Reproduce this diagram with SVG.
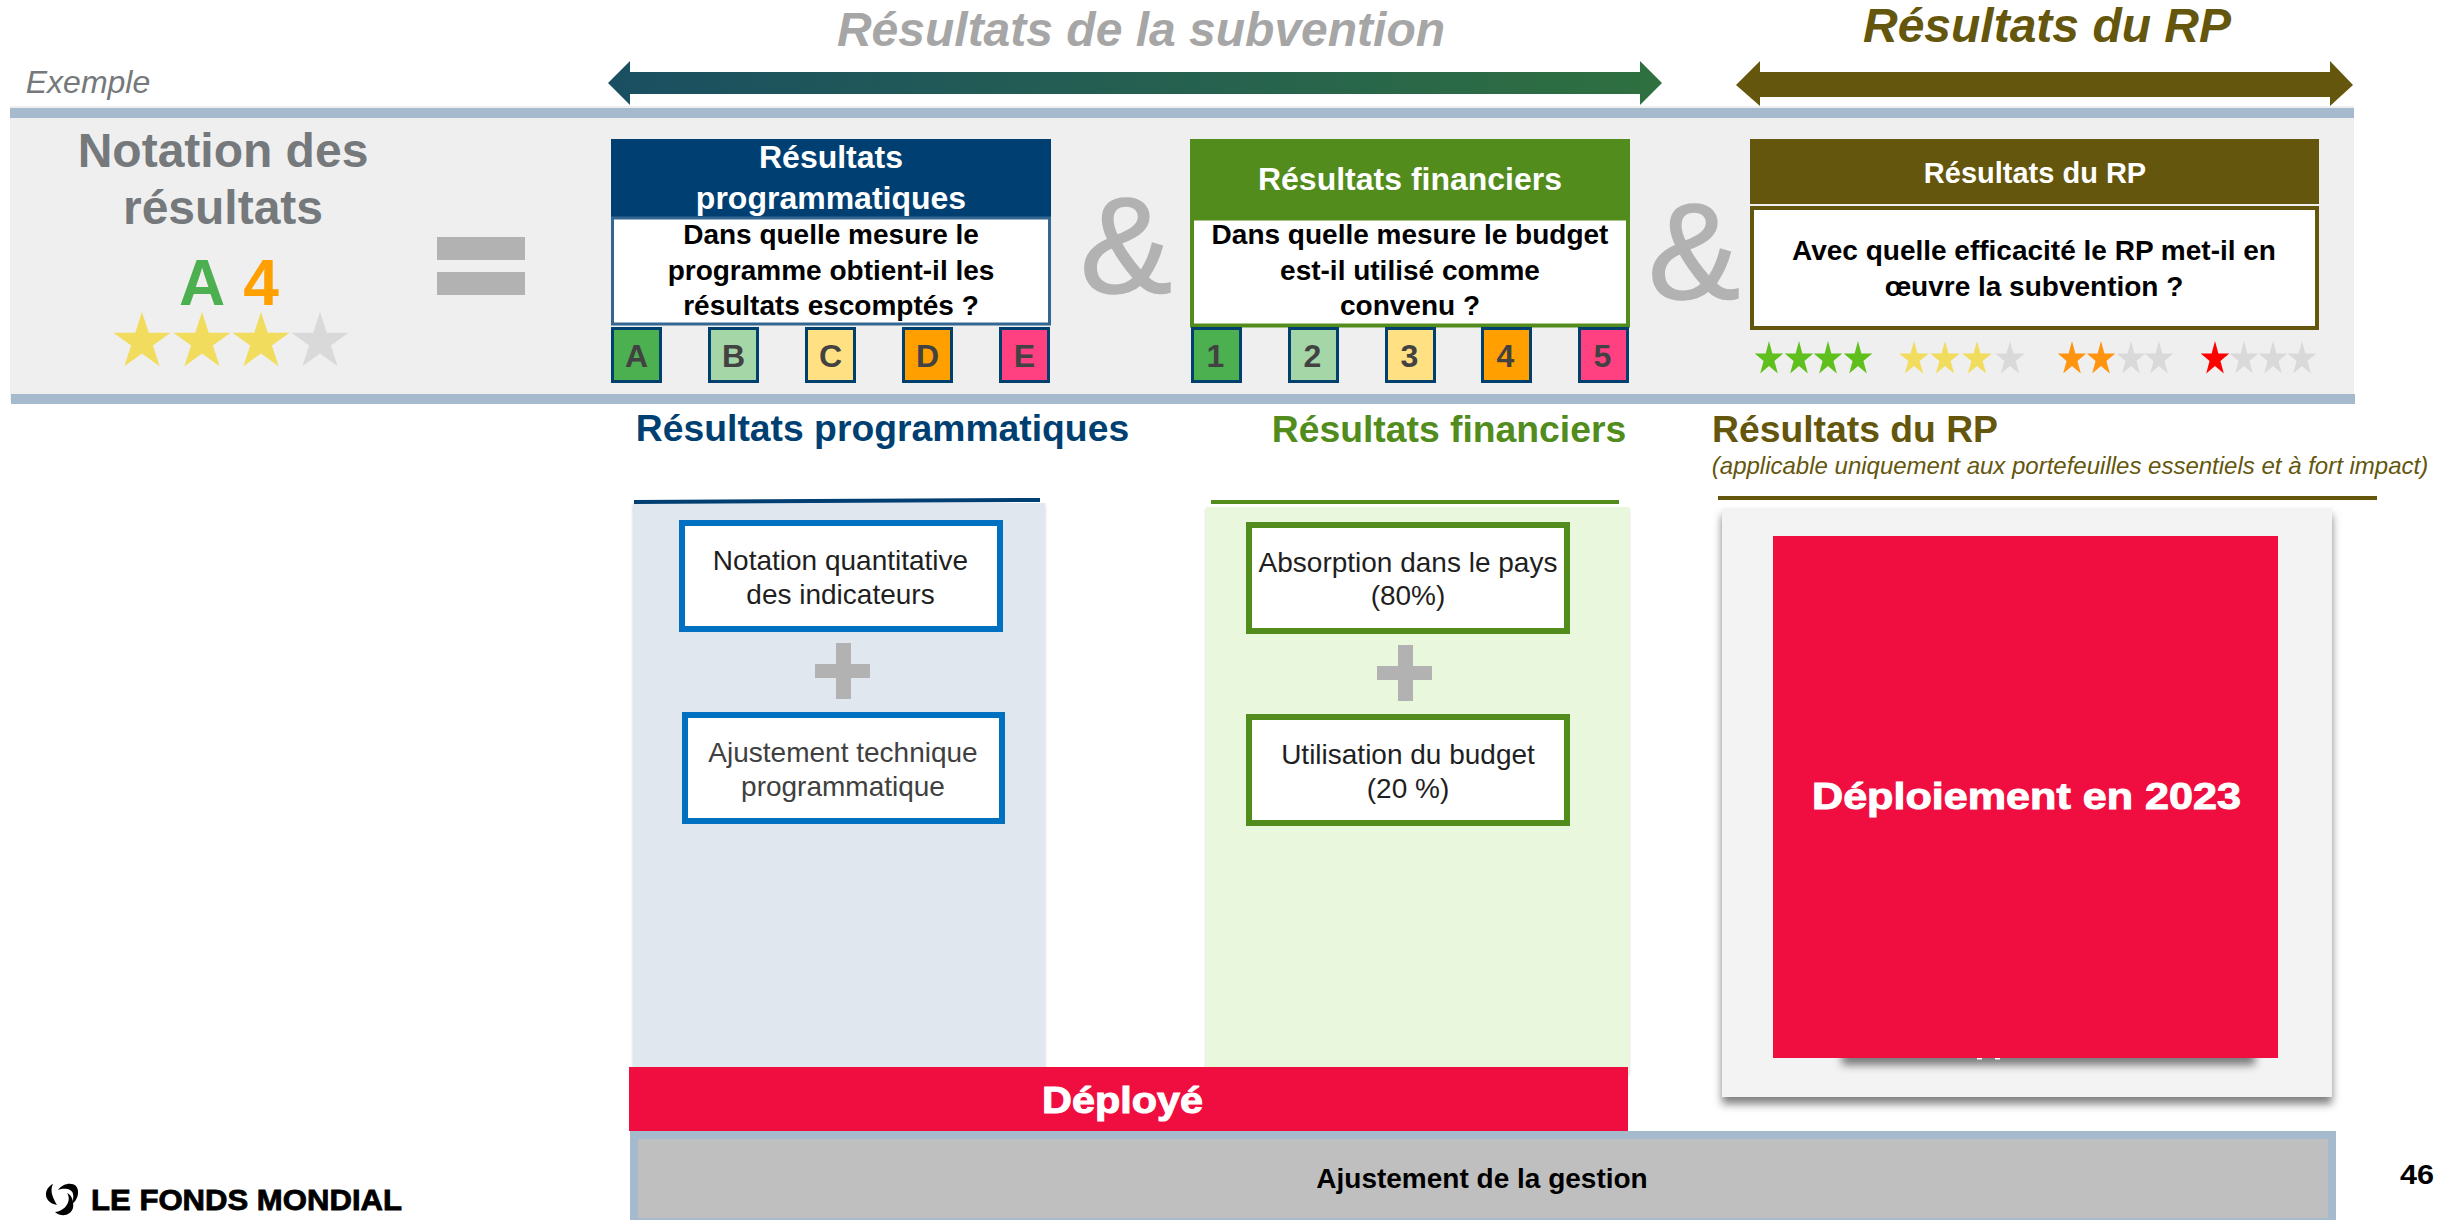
<svg xmlns="http://www.w3.org/2000/svg" xmlns:xlink="http://www.w3.org/1999/xlink" width="2456" height="1220" viewBox="0 0 2456 1220">
<style>
text{font-family:"Liberation Sans",Arial,sans-serif;text-anchor:middle}
.b{font-weight:700}
.i{font-style:italic}
.gry{fill:#75797c}
.sym{fill:#b2b2b2}
.amp{fill:#b2b2b2;stroke:#b2b2b2;stroke-width:1.500}
.blue{fill:#003f72}
.grn{fill:#518c1c}
.rp{fill:#64560c}
.q{font-size:28px;font-weight:700;fill:#000}
.hd{font-size:32px;font-weight:700;fill:#fff}
.sh{font-size:37.300px;font-weight:700}
.sq{stroke:#00406f;stroke-width:3}
.sql{font-size:32px;font-weight:700;fill:#424242}
.itxt{font-size:28px;fill:#1f1f1f}
.bar{fill:#a5bacc}
.bb{fill:#fff;stroke:#0070c0;stroke-width:6}
.gb{fill:#fff;stroke:#518c1c;stroke-width:6}
.y{fill:#f2dc5d}.g{fill:#d9d9d9}.l{fill:#5fbf1c}.o{fill:#ff9410}.r{fill:#ff0000}
</style>
<defs>
<polygon id="star" points="0,-1 0.2245,-0.309 0.951,-0.309 0.363,0.118 0.588,0.809 0,0.382 -0.588,0.809 -0.363,0.118 -0.951,-0.309 -0.2245,-0.309"/>
<linearGradient id="ag" x1="0" x2="1" y1="0" y2="0"><stop offset="0" stop-color="#1a4f62"/><stop offset="1" stop-color="#2f7040"/></linearGradient>
<filter id="ps" filterUnits="userSpaceOnUse" x="1700" y="490" width="660" height="640"><feDropShadow dx="0" dy="7" stdDeviation="4" flood-color="#000" flood-opacity="0.5"/></filter>
<filter id="ss" x="-5%" y="-5%" width="110%" height="110%"><feDropShadow dx="0" dy="2" stdDeviation="1.500" flood-color="#000" flood-opacity="0.2"/></filter>
</defs>
<rect width="2456" height="1220" fill="#fff"/>

<g id="band">
<rect x="10" y="106" width="2344" height="294" fill="#efefef"/>
<rect class="bar" x="10" y="108" width="2344" height="10"/>
<rect class="bar" x="11" y="394" width="2344" height="10"/>
</g>

<g id="exemple"><text class="i gry" x="88" y="93" font-size="32">Exemple</text></g>

<g id="titre-subvention">
<text class="b i" x="1141" y="46" font-size="48" fill="#a6a6a6">Résultats de la subvention</text>
<polygon points="608,83 630,61 630,72 1640,72 1640,61 1662,83 1640,105 1640,94 630,94 630,105" fill="url(#ag)"/>
</g>
<g id="titre-rp">
<text class="b i rp" x="2047" y="42" font-size="48">Résultats du RP</text>
<polygon class="rp" points="1736,85 1760,61 1760,72 2330,72 2330,61 2353,85 2330,106 2330,97 1760,97 1760,106"/>
</g>

<g id="notation">
<text class="b gry" x="223" y="167" font-size="48">Notation des</text>
<text class="b gry" x="223" y="224" font-size="48">résultats</text>
<text class="b" x="202" y="305" font-size="64" fill="#4caf50">A</text>
<text class="b" x="261" y="305" font-size="64" fill="#ff9f00">4</text>
<use href="#star" class="y" transform="translate(142 342) scale(30)"/>
<use href="#star" class="y" transform="translate(202 342) scale(30)"/>
<use href="#star" class="y" transform="translate(261 342) scale(30)"/>
<use href="#star" class="g" transform="translate(320 342) scale(30)"/>
</g>
<g id="egal" class="sym"><rect x="437" y="237" width="88" height="23"/><rect x="437" y="272" width="88" height="23"/></g>

<g id="box-programmatiques">
<rect class="blue" x="611" y="139" width="440" height="78"/>
<text class="hd" x="831" y="168">Résultats</text>
<text class="hd" x="831" y="209">programmatiques</text>
<rect x="612.500" y="218" width="437" height="106" fill="#fff" stroke="#336690" stroke-width="3"/>
<text class="q" x="831" y="244">Dans quelle mesure le</text>
<text class="q" x="831" y="280">programme obtient-il les</text>
<text class="q" x="831" y="315">résultats escomptés ?</text>
<rect class="sq" x="612.500" y="328.500" width="48" height="53" fill="#4caf50"/><text class="sql" x="636.500" y="367">A</text>
<rect class="sq" x="709.500" y="328.500" width="48" height="53" fill="#a5d6a7"/><text class="sql" x="733.500" y="367">B</text>
<rect class="sq" x="806.500" y="328.500" width="48" height="53" fill="#ffe082"/><text class="sql" x="830.500" y="367">C</text>
<rect class="sq" x="903.500" y="328.500" width="48" height="53" fill="#ffa000"/><text class="sql" x="927.500" y="367">D</text>
<rect class="sq" x="1000.500" y="328.500" width="48" height="53" fill="#ff4081"/><text class="sql" x="1024.500" y="367">E</text>
</g>
<g id="et-1"><text class="amp" x="1126" y="293" font-size="138">&amp;</text></g>

<g id="box-financiers">
<rect class="grn" x="1190" y="139" width="440" height="78"/>
<text class="hd" x="1410" y="190">Résultats financiers</text>
<rect x="1192" y="218.500" width="436" height="107" fill="#fff" stroke="#518c1c" stroke-width="4"/>
<text class="q" x="1410" y="244">Dans quelle mesure le budget</text>
<text class="q" x="1410" y="280">est-il utilisé comme</text>
<text class="q" x="1410" y="315">convenu ?</text>
<rect class="sq" x="1192.500" y="328.500" width="48" height="53" fill="#4caf50"/><text class="sql" x="1215.500" y="367">1</text>
<rect class="sq" x="1289.500" y="328.500" width="48" height="53" fill="#a5d6a7"/><text class="sql" x="1312.500" y="367">2</text>
<rect class="sq" x="1386.500" y="328.500" width="48" height="53" fill="#ffe082"/><text class="sql" x="1409.500" y="367">3</text>
<rect class="sq" x="1482.500" y="328.500" width="48" height="53" fill="#ffa000"/><text class="sql" x="1505.500" y="367">4</text>
<rect class="sq" x="1579.500" y="328.500" width="48" height="53" fill="#ff4081"/><text class="sql" x="1602.500" y="367">5</text>
</g>
<g id="et-2"><text class="amp" x="1694" y="299" font-size="138">&amp;</text></g>

<g id="box-rp">
<rect class="rp" x="1750" y="139" width="569" height="65"/>
<text class="b" x="2035" y="183" font-size="29" fill="#fff">Résultats du RP</text>
<rect x="1752" y="208" width="565" height="120" fill="#fff" stroke="#64560c" stroke-width="4"/>
<text class="q" x="2034" y="260">Avec quelle efficacité le RP met-il en</text>
<text class="q" x="2034" y="296">œuvre la subvention ?</text>
</g>
<g id="etoiles-rp">
<use href="#star" class="l" transform="translate(1769 359) scale(15 18)"/>
<use href="#star" class="l" transform="translate(1799 359) scale(15 18)"/>
<use href="#star" class="l" transform="translate(1828 359) scale(15 18)"/>
<use href="#star" class="l" transform="translate(1858 359) scale(15 18)"/>
<use href="#star" class="y" transform="translate(1914 359) scale(15.500 18)"/>
<use href="#star" class="y" transform="translate(1945 359) scale(15.500 18)"/>
<use href="#star" class="y" transform="translate(1977 359) scale(15.500 18)"/>
<use href="#star" class="g" transform="translate(2010 359) scale(15.500 18)"/>
<use href="#star" class="o" transform="translate(2072 359) scale(15 18)"/>
<use href="#star" class="o" transform="translate(2101 359) scale(15 18)"/>
<use href="#star" class="g" transform="translate(2131 359) scale(15 18)"/>
<use href="#star" class="g" transform="translate(2159 359) scale(15 18)"/>
<use href="#star" class="r" transform="translate(2215 359) scale(15 18)"/>
<use href="#star" class="g" transform="translate(2244 359) scale(15 18)"/>
<use href="#star" class="g" transform="translate(2273 359) scale(15 18)"/>
<use href="#star" class="g" transform="translate(2302 359) scale(15 18)"/>
</g>

<g id="colonne-programmatiques">
<text class="sh blue" x="882.500" y="441">Résultats programmatiques</text>
<rect x="633" y="503" width="412" height="570" fill="#e0e7ef" filter="url(#ss)"/>
<polygon class="blue" points="634,500 1040,498 1040,502 634,504"/>
<g id="notation-quantitative">
<rect class="bb" x="682" y="523" width="318" height="106"/>
<text class="itxt" x="840.500" y="570">Notation quantitative</text>
<text class="itxt" x="840.500" y="604">des indicateurs</text>
</g>
<path class="sym" d="M836 643h15v21h19v14h-19v21h-15v-21h-21v-14h21z"/>
<g id="ajustement-technique">
<rect class="bb" x="685" y="715" width="317" height="106"/>
<text class="itxt" x="843" y="762" style="fill:#404040">Ajustement technique</text>
<text class="itxt" x="843" y="796" style="fill:#404040">programmatique</text>
</g>
</g>

<g id="colonne-financiers">
<text class="sh grn" x="1449" y="442">Résultats financiers</text>
<rect x="1206" y="507" width="423" height="566" fill="#e9f7dc" filter="url(#ss)"/>
<rect class="grn" x="1211" y="500" width="408" height="4"/>
<g id="absorption">
<rect class="gb" x="1249" y="525" width="318" height="106"/>
<text class="itxt" x="1408" y="572">Absorption dans le pays</text>
<text class="itxt" x="1408" y="605">(80%)</text>
</g>
<path class="sym" d="M1398 645h15v21h19v14h-19v21h-15v-21h-21v-14h21z"/>
<g id="utilisation">
<rect class="gb" x="1249" y="717" width="318" height="106"/>
<text class="itxt" x="1408" y="764">Utilisation du budget</text>
<text class="itxt" x="1408" y="798">(20 %)</text>
</g>
</g>

<g id="colonne-rp">
<text class="sh rp" x="1855" y="442">Résultats du RP</text>
<text class="i rp" x="2070" y="474" font-size="24">(applicable uniquement aux portefeuilles essentiels et à fort impact)</text>
<rect class="rp" x="1718" y="496" width="659" height="4"/>
<rect x="1722" y="508" width="610" height="589" fill="#f3f3f3" filter="url(#ps)"/>
<rect x="1842" y="1040" width="413" height="18" fill="#f3f3f3" filter="url(#ps)"/>
<rect x="1773" y="536" width="505" height="522" fill="#f00e40"/>
<rect x="1977" y="1058" width="5" height="1.500" fill="#fff"/>
<rect x="1995" y="1058" width="5" height="1.500" fill="#fff"/>
<text class="b" x="2026.500" y="809" font-size="37" fill="#fff" textLength="429" lengthAdjust="spacingAndGlyphs" stroke="#fff" stroke-width="1">Déploiement en 2023</text>
</g>

<g id="deploye">
<rect x="629" y="1067" width="999" height="64" fill="#f00e40"/>
<text class="b" x="1122.500" y="1113" font-size="36" fill="#fff" textLength="161" lengthAdjust="spacingAndGlyphs" stroke="#fff" stroke-width="1">Déployé</text>
</g>

<g id="ajustement-gestion">
<rect x="634" y="1135" width="1698" height="87" fill="#bfbfbf" stroke="#a5bacc" stroke-width="8"/>
<text class="b" x="1482" y="1188" font-size="28" fill="#000">Ajustement de la gestion</text>
</g>

<g id="logo">
<path d="M53 1184C44 1188 42 1202 57 1205C54 1200 49 1191 53 1184Z"/>
<path d="M58 1190C63 1183 72 1182 76 1186C80 1191 78 1200 72 1204C74 1197 74 1192 70 1190C66 1188 61 1189 58 1190Z"/>
<path d="M67 1193C72 1200 66 1211 55 1212C62 1218 71 1215 73 1208C74 1202 72 1195 67 1193Z"/>
<text class="b" x="246.500" y="1210" font-size="29" fill="#000" textLength="311" lengthAdjust="spacingAndGlyphs" stroke="#000" stroke-width="0.800">LE FONDS MONDIAL</text>
</g>
<g id="page"><text class="b" x="2417" y="1184" font-size="27" fill="#000" textLength="34" lengthAdjust="spacingAndGlyphs">46</text></g>
</svg>
